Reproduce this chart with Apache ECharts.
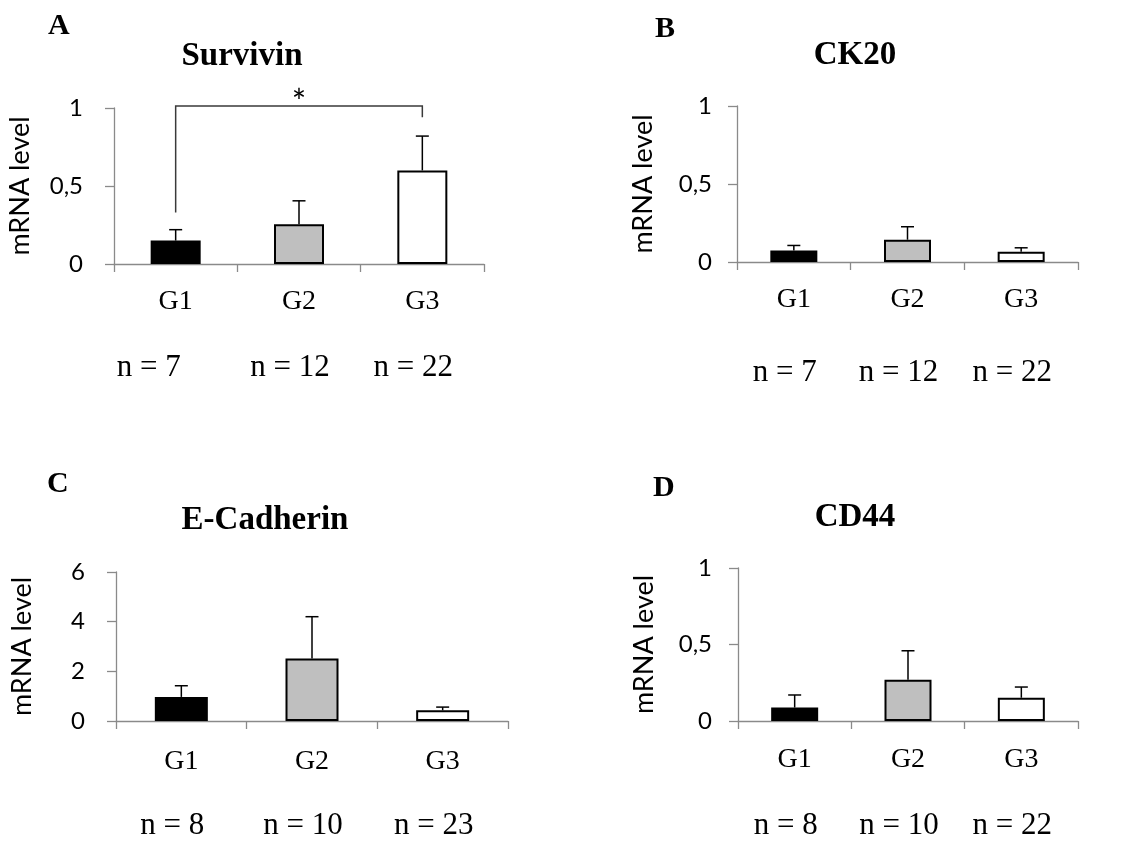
<!DOCTYPE html>
<html>
<head>
<meta charset="utf-8">
<script src="https://cdn.jsdelivr.net/npm/echarts@6/dist/echarts.min.js"></script>
<style>html,body{margin:0;padding:0;background:#fff}#c{width:1129px;height:841px}</style>
</head>
<body>
<div id="c"></div>
<script>
// ---- data ----
const categories = ['G1', 'G2', 'G3'];
const panelLetters = ['A', 'B', 'C', 'D'];
const panelTitles = ['Survivin', 'CK20', 'E-Cadherin', 'CD44'];
const yAxisName = 'mRNA level';

const survivinMean = [0.15, 0.255, 0.60];
const survivinErr  = [0.07, 0.15, 0.22];
const ck20Mean     = [0.074, 0.143, 0.066];
const ck20Err      = [0.032, 0.083, 0.025];
const ecadMean     = [0.97, 2.52, 0.43];
const ecadErr      = [0.45, 1.68, 0.13];
const cd44Mean     = [0.088, 0.269, 0.152];
const cd44Err      = [0.082, 0.19, 0.07];

const survivinN = ['n = 7', 'n = 12', 'n = 22'];
const ck20N     = ['n = 7', 'n = 12', 'n = 22'];
const ecadN     = ['n = 8', 'n = 10', 'n = 23'];
const cd44N     = ['n = 8', 'n = 10', 'n = 22'];

const yMax      = [1, 1, 6, 1];
const yInterval = [0.5, 0.5, 2, 0.5];

// significance bracket (Survivin, G1 vs G3)
const sigFrom = 0, sigTo = 2;
const sigLeftBottom = 0.33, sigTop = 1.013, sigRightBottom = 0.94;
const sigLabel = '*';

// ---- layout / styles ----
const means = [survivinMean, ck20Mean, ecadMean, cd44Mean];
const errs  = [survivinErr, ck20Err, ecadErr, cd44Err];
const nLabels = [survivinN, ck20N, ecadN, cd44N];
const barColors = ['#000000', '#bfbfbf', '#ffffff'];

const grids = [
  {left: 114, top: 108, width: 370, height: 156},
  {left: 737, top: 106, width: 341, height: 156},
  {left: 116, top: 572, width: 392, height: 155},
  {left: 738, top: 568, width: 340, height: 156}
];
const barWidths = [50, 47, 53, 47];
const yLabelMargin = [31, 25, 31, 26];
const gMargin = [24, 24, 27, 25];
const nMargin = [88, 95, 89, 89];
const titlePos = [[242, 56], [855, 55], [265, 520], [855, 517]];
const letterPos = [[48, 26], [655, 29], [47, 484], [653, 488]];

const SANS = 'Lato';
const SERIF = '"Liberation Serif", "Times New Roman", serif';
const axisGray = '#8a8a8a';

const option = {
  backgroundColor: '#ffffff',
  animation: false,
  title: [],
  grid: grids.map(g => Object.assign({containLabel: false}, g)),
  xAxis: [],
  yAxis: [],
  series: []
};

for (let p = 0; p < 4; p++) {
  option.title.push({
    text: panelTitles[p], left: titlePos[p][0], top: titlePos[p][1], padding: 0,
    textAlign: 'center', textVerticalAlign: 'middle',
    textStyle: {fontFamily: SERIF, fontWeight: 'bold', fontSize: 33, color: '#000'}
  });
  option.title.push({
    text: panelLetters[p], left: letterPos[p][0], top: letterPos[p][1], padding: 0,
    textAlign: 'left', textVerticalAlign: 'middle',
    textStyle: {fontFamily: SERIF, fontWeight: 'bold', fontSize: 30, color: '#000'}
  });

  // main category axis
  option.xAxis.push({
    type: 'category', gridIndex: p, data: categories,
    axisLine: {lineStyle: {color: axisGray, width: 1.3}},
    axisTick: {show: true, length: 8, lineStyle: {color: axisGray, width: 1.3}},
    axisLabel: {margin: gMargin[p], fontFamily: SERIF, fontSize: 28, color: '#000'}
  });
  // n labels axis
  const nData = nLabels[p].map((t, i) => {
    const pad = (p === 0 && i === 0) ? 54 : 18;
    return {value: t, textStyle: {padding: [0, pad, 0, 0]}};
  });
  option.xAxis.push({
    type: 'category', gridIndex: p, data: nData, position: 'bottom',
    axisLine: {show: false}, axisTick: {show: false}, splitLine: {show: false},
    axisLabel: {margin: nMargin[p], fontFamily: SERIF, fontSize: 31, color: '#000'}
  });

  option.yAxis.push({
    type: 'value', gridIndex: p, min: 0, max: yMax[p], interval: yInterval[p],
    name: yAxisName, nameLocation: 'middle', nameGap: 80,
    nameTextStyle: {fontFamily: SANS, fontSize: 27, color: '#000'},
    axisLine: {show: true, lineStyle: {color: axisGray, width: 1.3}},
    axisTick: {show: true, length: 9, lineStyle: {color: axisGray, width: 1.3}},
    splitLine: {show: false},
    axisLabel: {
      margin: yLabelMargin[p], fontFamily: SANS, fontSize: 24, color: '#000',
      formatter: v => String(v).replace('.', ',')
    }
  });

  option.series.push({
    type: 'bar', xAxisIndex: 2 * p, yAxisIndex: p, barWidth: barWidths[p],
    data: means[p].map((v, i) => ({
      value: v,
      itemStyle: {color: barColors[i], borderColor: '#000', borderWidth: 2}
    })),
    z: 2
  });

  option.series.push({
    type: 'custom', xAxisIndex: 2 * p, yAxisIndex: p, z: 3,
    encode: {x: 0, y: 1},
    data: means[p].map((v, i) => [i, v, errs[p][i]]),
    renderItem: function (params, api) {
      const x = api.value(0), m = api.value(1), e = api.value(2);
      const p0 = api.coord([x, m]);
      const p1 = api.coord([x, m + e]);
      const st = {stroke: '#000', lineWidth: 1.5};
      return {type: 'group', children: [
        {type: 'line', shape: {x1: p0[0], y1: p0[1], x2: p1[0], y2: p1[1]}, style: st},
        {type: 'line', shape: {x1: p1[0] - 6.5, y1: p1[1], x2: p1[0] + 6.5, y2: p1[1]}, style: st}
      ]};
    }
  });
}

// significance bracket on panel A
option.series.push({
  type: 'custom', xAxisIndex: 0, yAxisIndex: 0, z: 4, clip: false,
  data: [[sigFrom, sigTo, sigLeftBottom, sigTop, sigRightBottom]],
  renderItem: function (params, api) {
    const a = api.value(0), b = api.value(1);
    const lb = api.value(2), t = api.value(3), rb = api.value(4);
    const pA = api.coord([a, lb]), pAt = api.coord([a, t]);
    const pBt = api.coord([b, t]), pB = api.coord([b, rb]);
    return {type: 'group', children: [
      {type: 'polyline', shape: {points: [pA, pAt, pBt, pB]},
       style: {stroke: '#3a3a3a', lineWidth: 1.5, fill: null}},
      {type: 'text', x: (pAt[0] + pBt[0]) / 2, y: pAt[1] - 3,
       style: {text: sigLabel, fontFamily: SANS, fontSize: 34, fill: '#000',
               align: 'center', verticalAlign: 'middle'}}
    ]};
  }
});

const chart = echarts.init(document.getElementById('c'), null, {renderer: 'canvas'});
chart.setOption(option);
</script>
</body>
</html>
